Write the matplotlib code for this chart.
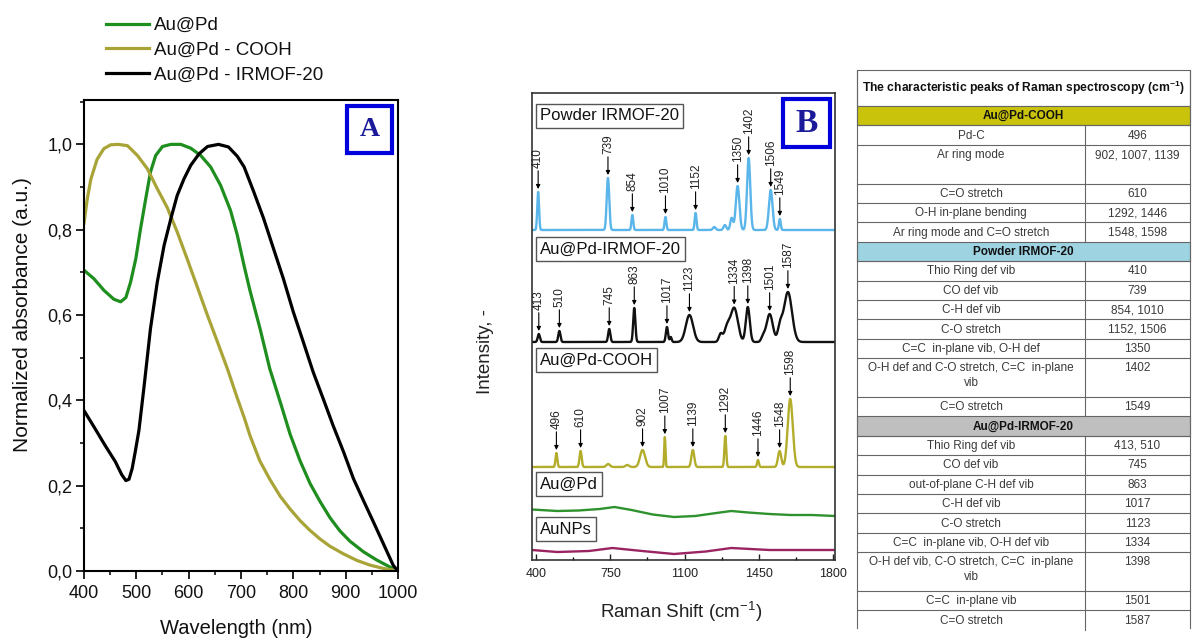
import numpy as np
import matplotlib
matplotlib.use("Agg")
import matplotlib.pyplot as plt
from matplotlib.ticker import FuncFormatter, MultipleLocator, FixedLocator
from matplotlib.patches import Rectangle

plt.rcParams['font.family'] = ['Liberation Sans', 'DejaVu Sans']
plt.rcParams['mathtext.fontset'] = 'custom'
plt.rcParams['mathtext.rm'] = 'Liberation Sans'
plt.rcParams['mathtext.bf'] = 'Liberation Sans:bold'

# ---------------- Panel A data (UV-vis) ----------------
wl_aupd = [400, 419, 438, 457, 470, 480, 489, 499, 508, 518, 527, 537, 550, 566, 585,
           604, 623, 642, 661, 680, 693, 706, 717, 736, 755, 775, 794, 813, 832, 851,
           870, 889, 908, 934, 959, 985, 1000]
abs_aupd = [0.705, 0.685, 0.658, 0.637, 0.631, 0.641, 0.677, 0.732, 0.802, 0.873, 0.935,
            0.974, 0.995, 1.0, 1.0, 0.991, 0.974, 0.947, 0.904, 0.845, 0.787, 0.715,
            0.658, 0.57, 0.474, 0.396, 0.32, 0.258, 0.205, 0.163, 0.125, 0.094, 0.07,
            0.045, 0.026, 0.009, 0.0]
wl_cooh = [400, 406, 413, 425, 438, 451, 465, 483, 502, 521, 540, 559, 578, 597, 617,
           636, 655, 674, 693, 706, 717, 736, 755, 775, 794, 813, 832, 851, 870, 896,
           921, 946, 972, 1000]
abs_cooh = [0.815, 0.87, 0.918, 0.965, 0.99, 0.999, 1.0, 0.997, 0.974, 0.943, 0.896,
            0.852, 0.795, 0.732, 0.664, 0.599, 0.537, 0.474, 0.405, 0.36, 0.318, 0.258,
            0.215, 0.175, 0.145, 0.118, 0.095, 0.075, 0.058, 0.04, 0.025, 0.014, 0.006,
            0.0]
wl_irmof = [400, 420, 440, 460, 472, 480, 486, 492, 498, 505, 515, 527, 540, 553, 566,
            578, 591, 604, 620, 636, 657, 676, 693, 706, 724, 743, 762, 781, 800, 819,
            838, 857, 876, 896, 915, 934, 953, 972, 991, 1000]
abs_irmof = [0.376, 0.336, 0.295, 0.256, 0.226, 0.212, 0.215, 0.24, 0.28, 0.33, 0.435,
             0.568, 0.677, 0.763, 0.826, 0.88, 0.919, 0.951, 0.978, 0.995, 1.0, 0.994,
             0.972, 0.947, 0.89, 0.827, 0.756, 0.685, 0.607, 0.537, 0.466, 0.404, 0.341,
             0.279, 0.216, 0.165, 0.115, 0.064, 0.013, 0.0]
legend_labels = ["Au@Pd", "Au@Pd - COOH", "Au@Pd - IRMOF-20"]

# ---------------- Panel B data (Raman) ----------------
powder_base = 330
powder_pos = [410, 739, 854, 1010, 1152, 1240, 1290, 1322, 1350, 1402, 1506, 1549]
powder_hgt = [38, 52, 15, 13, 17, 3, 5, 12, 44, 72, 40, 11]
powder_fwhm = [10, 14, 10, 10, 10, 15, 15, 15, 20, 18, 20, 10]
powder_labels = [410, 739, 854, 1010, 1152, 1350, 1402, 1506, 1549]

irmof_base = 218
irmof_pos = [413, 510, 745, 863, 1017, 1035, 1123, 1270, 1300, 1334, 1398, 1470, 1501, 1550, 1587]
irmof_hgt = [8, 11, 13, 34, 15, 5, 27, 8, 14, 34, 35, 5, 28, 14, 50]
irmof_fwhm = [12, 12, 12, 12, 12, 10, 40, 20, 30, 40, 22, 20, 35, 25, 45]
irmof_labels = [413, 510, 745, 863, 1017, 1123, 1334, 1398, 1501, 1587]

cooh_base = 93
cooh_pos = [496, 610, 740, 830, 902, 1007, 1139, 1292, 1446, 1548, 1598]
cooh_hgt = [14, 16, 3, 2, 17, 30, 17, 31, 7, 16, 68]
cooh_fwhm = [10, 12, 20, 20, 28, 7, 16, 10, 10, 18, 28]
cooh_labels = [496, 610, 902, 1007, 1139, 1292, 1446, 1548, 1598]

aupd_shift = [381, 500, 600, 700, 770, 850, 950, 1050, 1150, 1250, 1320, 1400, 1500, 1600, 1700, 1809]
aupd_int = [50.5, 49, 49.5, 51, 53, 50, 45.5, 43, 44, 47, 49, 47.5, 46, 45, 45, 44]
aunp_shift = [381, 500, 650, 760, 900, 1050, 1200, 1320, 1500, 1650, 1809]
aunp_int = [10, 8, 9, 12, 9, 6, 8.5, 12, 10, 10, 10]

raman_ticks = [400, 750, 1100, 1450, 1800]
sample_names = ["Powder IRMOF-20", "Au@Pd-IRMOF-20", "Au@Pd-COOH", "Au@Pd", "AuNPs"]

# ---------------- Table data ----------------
table_title = "The characteristic peaks of Raman spectroscopy (cm$^{\\mathbf{-1}}$)"
sec_names = ["Au@Pd-COOH", "Powder IRMOF-20", "Au@Pd-IRMOF-20"]
sec_colors = ["#C9C30C", "#9ED3E2", "#BFBFBF"]
cooh_modes = ["Pd-C", "Ar ring mode", "C=O stretch", "O-H in-plane bending",
              "Ar ring mode and C=O stretch"]
cooh_vals = ["496", "902, 1007, 1139", "610", "1292, 1446", "1548, 1598"]
cooh_lines = [1, 2, 1, 1, 1]
powder_modes = ["Thio Ring def vib", "CO def vib", "C-H def vib", "C-O stretch",
                "C=C  in-plane vib, O-H def",
                "O-H def and C-O stretch, C=C  in-plane\nvib", "C=O stretch"]
powder_vals = ["410", "739", "854, 1010", "1152, 1506", "1350", "1402", "1549"]
powder_lines = [1, 1, 1, 1, 1, 2, 1]
irmof_modes = ["Thio Ring def vib", "CO def vib", "out-of-plane C-H def vib", "C-H def vib",
               "C-O stretch", "C=C  in-plane vib, O-H def vib",
               "O-H def vib, C-O stretch, C=C  in-plane\nvib", "C=C  in-plane vib",
               "C=O stretch"]
irmof_vals = ["413, 510", "745", "863", "1017", "1123", "1334", "1398", "1501", "1587"]
irmof_lines = [1, 1, 1, 1, 1, 1, 2, 1, 1]

W, H = 1192, 639
fig = plt.figure(figsize=(W / 100, H / 100), dpi=100)


def fx(px):
    return px / W


def fy(py):
    return 1 - py / H


# ======================= Panel A =======================
axA = fig.add_axes([fx(84), fy(571), 314 / W, 471 / H])
cA = {"g": "#1E8E1E", "o": "#A9A437", "k": "#000000"}
lA1, = axA.plot(wl_aupd, abs_aupd, color=cA["g"], lw=2.3, solid_joinstyle='round')
lA2, = axA.plot(wl_cooh, abs_cooh, color=cA["o"], lw=2.3, solid_joinstyle='round')
lA3, = axA.plot(wl_irmof, abs_irmof, color=cA["k"], lw=2.3, solid_joinstyle='round')
axA.set_xlim(400, 1000)
axA.set_ylim(0, 1.104)
axA.xaxis.set_major_locator(MultipleLocator(100))
axA.xaxis.set_minor_locator(MultipleLocator(50))
axA.yaxis.set_major_locator(MultipleLocator(0.2))
axA.yaxis.set_minor_locator(MultipleLocator(0.1))
axA.yaxis.set_major_formatter(FuncFormatter(lambda v, p: f"{v:.1f}".replace('.', ',')))
for s in axA.spines.values():
    s.set_linewidth(1.5)
axA.tick_params(which='major', direction='out', length=5.8, width=1.3, labelsize=13,
                colors='#111111')
axA.tick_params(which='minor', direction='out', length=3, width=1.1)
axA.tick_params(axis='x', pad=4.5)
axA.tick_params(axis='y', pad=2.5)
fig.text(fx(236), fy(628), "Wavelength (nm)", ha='center', va='center', fontsize=14.5,
         color='#111111')
fig.text(fx(23), fy(315), "Normalized absorbance (a.u.)", ha='center', va='center',
         rotation=90, fontsize=15, color='#111111')

axA.add_patch(Rectangle((0.8376, 0.8875), 0.1434, 0.0995, transform=axA.transAxes,
                        fc='white', ec='#0000DD', lw=3, zorder=5))
axA.text(0.909, 0.937, "A", transform=axA.transAxes, ha='center', va='center',
         fontsize=20, fontweight='bold', family='Liberation Serif', color='#1A1A9A', zorder=6)

fig.legend([lA1, lA2, lA3], legend_labels, loc='upper left',
           bbox_to_anchor=(fx(106), fy(17)), bbox_transform=fig.transFigure,
           frameon=False, fontsize=13.5, handlelength=2.3, handletextpad=0.27,
           labelspacing=0.4, borderpad=0, borderaxespad=0)
for t in fig.legends[0].get_texts():
    t.set_color('#111111')

# ======================= Panel B =======================
axB = fig.add_axes([fx(532), fy(560), 303 / W, 467 / H])
shift = np.linspace(381, 1809, 2500)


def spectrum(base, pos, hgt, fwhm):
    y = np.full_like(shift, float(base))
    for p, h, w in zip(pos, hgt, fwhm):
        y += h * np.exp(-4 * np.log(2) * (shift - p) ** 2 / w ** 2)
    return y


specs = [
    (powder_base, powder_pos, powder_hgt, powder_fwhm, powder_labels, "#5AB6EA"),
    (irmof_base, irmof_pos, irmof_hgt, irmof_fwhm, irmof_labels, "#111111"),
    (cooh_base, cooh_pos, cooh_hgt, cooh_fwhm, cooh_labels, "#B3AD2B"),
]
for base, pos, hgt, fw, labs, col in specs:
    y = spectrum(base, pos, hgt, fw)
    axB.plot(shift, y, color=col, lw=1.7)
    for lab in labs:
        top = np.interp(lab, shift, y)
        axB.annotate(str(lab), xy=(lab, top + 3), xytext=(lab, top + 24),
                     rotation=90, ha='center', va='bottom', fontsize=8.5, color='#222222',
                     arrowprops=dict(arrowstyle='-|>', color='black', lw=0.8,
                                     mutation_scale=6, shrinkA=0, shrinkB=0))

axB.plot(aupd_shift, aupd_int, color="#2E922E", lw=1.7)
axB.plot(aunp_shift, aunp_int, color="#9A2462", lw=1.7)

name_y = [444, 311, 200, 76, 31]
for name, yy in zip(sample_names, name_y):
    axB.text(419, yy, name, ha='left', va='center', fontsize=12, color='#111111',
             bbox=dict(boxstyle='square,pad=0.25', fc='white', ec='#555555', lw=1.0))

axB.set_xlim(381, 1809)
axB.set_ylim(0, 467)
axB.set_yticks([])
axB.xaxis.set_major_locator(FixedLocator(raman_ticks))
axB.xaxis.set_minor_locator(FixedLocator(
    [(a + b) / 2 for a, b in zip(raman_ticks[:-1], raman_ticks[1:])]))
axB.tick_params(which='major', direction='in', length=4, width=1, labelsize=9, pad=6,
                colors='#222222')
axB.tick_params(which='minor', direction='in', length=2.5, width=1)
for s in axB.spines.values():
    s.set_linewidth(1.2)
    s.set_color('#333333')
axB.add_patch(Rectangle((0.828, 0.884), 0.155, 0.103, transform=axB.transAxes,
                        fc='white', ec='#0000DD', lw=3, zorder=5))
axB.text(0.9055, 0.9355, "B", transform=axB.transAxes, ha='center', va='center',
         fontsize=24, fontweight='bold', family='Liberation Serif', color='#1A1A9A', zorder=6)
fig.text(fx(681), fy(612), "Raman Shift (cm$^{-1}$)", ha='center', va='center',
         fontsize=13.5, color='#222222')
fig.text(fx(486), fy(352), "Intensity, -", ha='center', va='center', rotation=90,
         fontsize=13.5, color='#222222')

# ======================= Table =======================
axT = fig.add_axes([0, 0, 1, 1], zorder=-1)
axT.set_xlim(0, W)
axT.set_ylim(H, 0)
axT.axis('off')
x0, xm, x1 = 857, 1085, 1190
top = 70
title_h = 36
unit = 19.4
lc = '#666666'
lw = 0.8
axT.add_patch(Rectangle((x0, top), x1 - x0, title_h, fc='white', ec=lc, lw=lw))
axT.text((x0 + x1) / 2, top + title_h / 2, table_title, ha='center', va='center',
         fontsize=8.7, fontweight='bold', color='#111111')
y = top + title_h
sections = [(cooh_modes, cooh_vals, cooh_lines), (powder_modes, powder_vals, powder_lines),
            (irmof_modes, irmof_vals, irmof_lines)]
for (modes, vals, lines), name, col in zip(sections, sec_names, sec_colors):
    axT.add_patch(Rectangle((x0, y), x1 - x0, unit, fc=col, ec=lc, lw=lw))
    axT.text((x0 + x1) / 2, y + unit / 2 + 0.5, name, ha='center', va='center', fontsize=8.5,
             fontweight='bold', color='#111111')
    y += unit
    for m, v, n in zip(modes, vals, lines):
        h = unit * n
        axT.plot([x0, x1], [y, y], color=lc, lw=lw)
        for i, line in enumerate(m.split('\n')):
            axT.text((x0 + xm) / 2, y + unit / 2 + 0.5 + i * 15, line, ha='center',
                     va='center', fontsize=8.5, color='#3A3A3A')
        axT.text((xm + x1) / 2, y + unit / 2 + 0.5, v, ha='center', va='center',
                 fontsize=8.5, color='#3A3A3A')
        axT.plot([xm, xm], [y, y + h], color=lc, lw=lw)
        y += h
axT.plot([x0, x0], [top, y - 2], color=lc, lw=lw)
axT.plot([x1, x1], [top, y - 2], color=lc, lw=lw)

fig.savefig("out.png", dpi=100)
